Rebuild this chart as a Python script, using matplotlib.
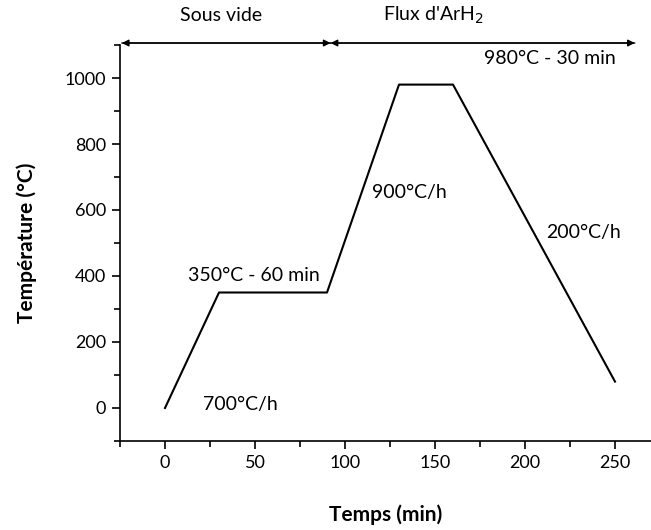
import matplotlib
matplotlib.use("Agg")
import matplotlib.pyplot as plt
from matplotlib.ticker import MultipleLocator

time_min = [0, 30, 90, 130, 160, 250]
temp_c = [0, 350, 350, 980, 980, 80]

annot_texts = ["700°C/h", "350°C - 60 min", "900°C/h", "980°C - 30 min", "200°C/h"]
annot_x = [21, 13, 115, 177, 212]
annot_y = [10, 403, 653, 1058, 532]

phase_labels = ["Sous vide", "Flux d'ArH$_2$"]
phase_bounds = [-24, 92, 261]
phase_label_x = [31, 149]

plt.rcParams['font.family'] = ['Lato', 'DejaVu Sans']

fig = plt.figure(figsize=(6.51, 5.30), dpi=100)
ax = fig.add_axes([120/651, 89/530, 531/651, 396/530])

ax.plot(time_min, temp_c, color='black', lw=1.5)

ax.set_xlim(-25, 270)
ax.set_ylim(-100, 1100)
ax.xaxis.set_major_locator(MultipleLocator(50))
ax.xaxis.set_minor_locator(MultipleLocator(25))
ax.yaxis.set_major_locator(MultipleLocator(200))
ax.yaxis.set_minor_locator(MultipleLocator(100))
ax.set_xticks([0, 50, 100, 150, 200, 250])

for s in ['top', 'right']:
    ax.spines[s].set_visible(False)
for s in ['left', 'bottom']:
    ax.spines[s].set_linewidth(1.2)

ax.tick_params(which='major', direction='out', length=6, width=1.2, labelsize=13, pad=4)
ax.tick_params(which='minor', direction='out', length=4, width=1.2)

ax.set_xlabel("Temps (min)", fontsize=15, fontweight='bold', labelpad=24)
ax.set_ylabel("Température (°C)", fontsize=15, fontweight='bold', labelpad=20)

for t, x, y in zip(annot_texts, annot_x, annot_y):
    ax.text(x, y, t, fontsize=14, ha='left', va='center')

arrow_y = 1106
for i in range(2):
    ax.annotate('', xy=(phase_bounds[i], arrow_y), xytext=(phase_bounds[i+1], arrow_y),
                arrowprops=dict(arrowstyle='-|>', color='black', lw=1.0,
                                mutation_scale=10, shrinkA=0, shrinkB=0),
                annotation_clip=False)
    ax.annotate('', xy=(phase_bounds[i+1], arrow_y), xytext=(phase_bounds[i], arrow_y),
                arrowprops=dict(arrowstyle='-|>', color='black', lw=1.0,
                                mutation_scale=10, shrinkA=0, shrinkB=0),
                annotation_clip=False)
    ax.text(phase_label_x[i], 1190, phase_labels[i], fontsize=14, ha='center', va='center',
            clip_on=False)

fig.savefig("out.png", dpi=100)
